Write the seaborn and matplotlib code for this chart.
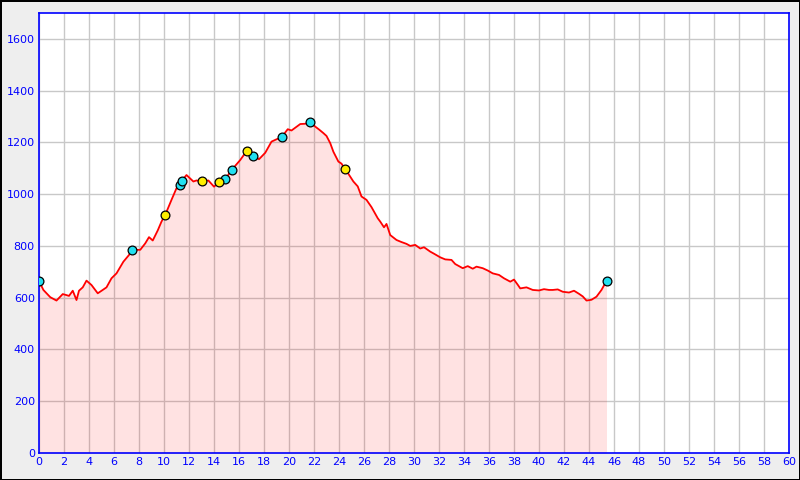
import numpy as np
import pandas as pd
import seaborn as sns
import matplotlib.pyplot as plt

# profil altimétrique: distance (km) et altitude (m)
distance = [0.0, 0.35, 0.9, 1.4, 1.9, 2.2, 2.4, 2.7, 3.0, 3.2, 3.5, 3.8, 4.2, 4.7, 5.1, 5.4,
            5.8, 6.2, 6.75, 7.2, 7.5, 8.1, 8.5, 8.8, 9.1, 9.5, 9.8, 10.1, 10.6, 11.0, 11.3,
            11.4, 11.8, 12.35, 12.6, 13.0, 13.55, 14.0, 14.4, 14.9, 15.4, 16.1, 16.6, 17.15,
            17.6, 18.1, 18.6, 19.0, 19.4, 19.9, 20.2, 20.9, 21.3, 21.7, 22.1, 22.4, 22.75,
            23.0, 23.3, 23.55, 23.95, 24.2, 24.5, 24.8, 25.15, 25.5, 25.8, 26.2, 26.6, 27.1,
            27.3, 27.6, 27.8, 28.1, 28.6, 29.0, 29.4, 29.7, 30.1, 30.5, 30.8, 31.3, 31.6,
            32.1, 32.5, 33.0, 33.3, 33.9, 34.3, 34.7, 35.0, 35.5, 35.9, 36.3, 36.8, 37.2,
            37.7, 38.0, 38.3, 38.5, 39.0, 39.5, 40.0, 40.4, 40.8, 41.1, 41.5, 41.9, 42.4,
            42.8, 43.2, 43.5, 43.8, 44.2, 44.6, 45.0, 45.4]
altitude = [665, 630, 602, 589, 614, 610, 607, 627, 591, 627, 640, 666, 649, 617, 630, 640,
            675, 694, 739, 765, 785, 785, 810, 834, 821, 860, 894, 920, 978, 1023, 1037,
            1051, 1074, 1049, 1053, 1050, 1053, 1029, 1046, 1058, 1093, 1132, 1166, 1148,
            1135, 1160, 1203, 1212, 1220, 1251, 1246, 1271, 1272, 1278, 1261, 1250, 1236,
            1225, 1197, 1164, 1126, 1118, 1096, 1075, 1049, 1030, 991, 978, 950, 907,
            894, 872, 885, 842, 823, 815, 808, 800, 804, 790, 795, 778, 770,
            756, 748, 746, 730, 714, 722, 712, 720, 714, 705, 694, 688, 675,
            662, 670, 650, 636, 640, 630, 628, 633, 630, 630, 632, 623, 620,
            627, 615, 605, 589, 592, 604, 630, 665]

# points de passage
wp_cyan_x = [0.0, 7.45, 11.3, 11.4, 14.9, 15.4, 17.15, 19.4, 21.7, 45.4]
wp_cyan_y = [665, 785, 1037, 1051, 1058, 1093, 1148, 1220, 1278, 665]
wp_jaune_x = [10.1, 13.0, 14.4, 16.6, 24.5]
wp_jaune_y = [920, 1050, 1046, 1166, 1096]

profil = pd.DataFrame({"km": distance, "alt": altitude})
cyan = pd.DataFrame({"km": wp_cyan_x, "alt": wp_cyan_y})
jaune = pd.DataFrame({"km": wp_jaune_x, "alt": wp_jaune_y})

sns.set_theme(style="whitegrid")
bleu = "#0000ff"

fig = plt.figure(figsize=(8, 4.8), dpi=100)
fig.patch.set_facecolor("#eeeeee")
fig.patch.set_edgecolor("black")
fig.patch.set_linewidth(2)
ax = fig.add_axes([39 / 800, 27 / 480, 750 / 800, 440 / 480])
ax.set_facecolor("white")

ax.fill_between(profil["km"], profil["alt"], 0, color="#ff0000", alpha=0.115, linewidth=0, zorder=2)
sns.lineplot(data=profil, x="km", y="alt", color="#ff0000", linewidth=1.3, ax=ax, zorder=3)
sns.scatterplot(data=cyan, x="km", y="alt", color="#22e0f0", edgecolor="black", linewidth=0.9,
                s=40, ax=ax, zorder=4)
sns.scatterplot(data=jaune, x="km", y="alt", color="#ffee00", edgecolor="black", linewidth=0.9,
                s=40, ax=ax, zorder=4)

ax.set_xlim(0, 60)
ax.set_ylim(0, 1700)
ax.set_xticks(range(0, 61, 2))
ax.set_yticks(range(0, 1601, 200))
ax.grid(True, color="#c8c8c8", linewidth=1)
ax.set_axisbelow(True)
ax.set_xlabel("")
ax.set_ylabel("")

for s in ax.spines.values():
    s.set_color(bleu)
    s.set_linewidth(1.2)
ax.tick_params(direction="in", length=5, width=1, color=bleu, labelcolor=bleu, labelsize=8, pad=3)

plt.savefig("out.png", dpi=100, facecolor=fig.get_facecolor(), edgecolor="black")
